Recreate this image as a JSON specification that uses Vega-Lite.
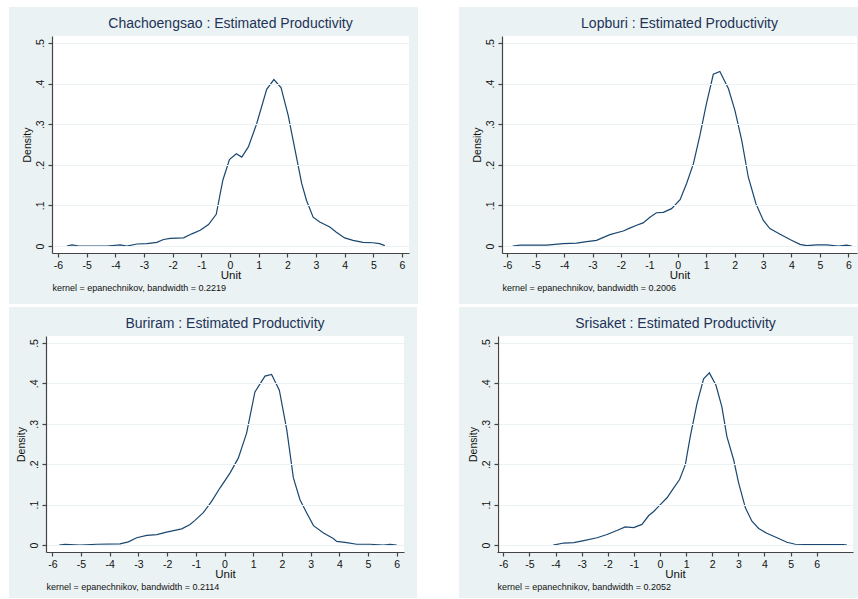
{
  "$schema": "https://vega.github.io/schema/vega-lite/v6.json",
  "background": "white",
  "padding": {"left": 9, "top": 7, "right": 0, "bottom": 1},
  "config": {
    "font": "Liberation Sans",
    "view": {"fill": "#eaf2f3", "stroke": null},
    "axis": {
      "labelFont": "Liberation Sans",
      "labelFontSize": 10.5,
      "labelColor": "#111111",
      "titleFont": "Liberation Sans",
      "titleFontSize": 11.5,
      "titleFontWeight": "normal",
      "titleColor": "#111111",
      "domainColor": "#444444",
      "domainWidth": 1.2,
      "tickColor": "#444444",
      "tickWidth": 1.2,
      "tickSize": 4,
      "gridColor": "#eaf2f3",
      "gridWidth": 1
    },
    "axisX": {"grid": false, "labelPadding": 3, "titlePadding": -1, "labelExpr": "'' + datum.value"},
    "axisY": {
      "labelAngle": 270,
      "labelAlign": "center",
      "labelBaseline": "bottom",
      "labelPadding": 3,
      "titlePadding": 3,
      "titleFontSize": 10.5,
      "labelExpr": "datum.value == 0 ? '0' : replace(format(datum.value, '.1f'), '0.', '.')"
    },
    "title": {
      "font": "Liberation Sans",
      "fontSize": 14,
      "fontWeight": "normal",
      "color": "#233257",
      "anchor": "middle",
      "frame": "group",
      "baseline": "alphabetic",
      "offset": -24
    }
  },
  "datasets": {
    "chachoengsao": [
      {"unit": -5.69, "density": 0}, {"unit": -5.51, "density": 0.003}, {"unit": -5.28, "density": 0},
      {"unit": -4.29, "density": 0}, {"unit": -3.83, "density": 0.003}, {"unit": -3.6, "density": 0},
      {"unit": -3.25, "density": 0.005}, {"unit": -2.9, "density": 0.006}, {"unit": -2.55, "density": 0.009},
      {"unit": -2.32, "density": 0.016}, {"unit": -2.08, "density": 0.019}, {"unit": -1.62, "density": 0.02},
      {"unit": -1.33, "density": 0.03}, {"unit": -1.04, "density": 0.039}, {"unit": -0.75, "density": 0.053},
      {"unit": -0.48, "density": 0.078}, {"unit": -0.25, "density": 0.162}, {"unit": -0.02, "density": 0.213},
      {"unit": 0.22, "density": 0.227}, {"unit": 0.41, "density": 0.219}, {"unit": 0.64, "density": 0.244},
      {"unit": 0.93, "density": 0.301}, {"unit": 1.28, "density": 0.386}, {"unit": 1.53, "density": 0.41},
      {"unit": 1.78, "density": 0.39}, {"unit": 2.03, "density": 0.322}, {"unit": 2.27, "density": 0.236},
      {"unit": 2.5, "density": 0.154}, {"unit": 2.67, "density": 0.112}, {"unit": 2.9, "density": 0.071},
      {"unit": 3.13, "density": 0.059}, {"unit": 3.48, "density": 0.047}, {"unit": 3.71, "density": 0.034},
      {"unit": 4.0, "density": 0.02}, {"unit": 4.29, "density": 0.014}, {"unit": 4.64, "density": 0.009},
      {"unit": 4.99, "density": 0.008}, {"unit": 5.22, "density": 0.006}, {"unit": 5.4, "density": 0.001}
    ],
    "lopburi": [
      {"unit": -5.81, "density": 0}, {"unit": -5.55, "density": 0.002}, {"unit": -4.62, "density": 0.002},
      {"unit": -4.03, "density": 0.006}, {"unit": -3.56, "density": 0.007}, {"unit": -3.21, "density": 0.011},
      {"unit": -2.86, "density": 0.014}, {"unit": -2.39, "density": 0.028}, {"unit": -1.92, "density": 0.037},
      {"unit": -1.69, "density": 0.044}, {"unit": -1.45, "density": 0.051}, {"unit": -1.22, "density": 0.057},
      {"unit": -0.98, "density": 0.071}, {"unit": -0.75, "density": 0.082}, {"unit": -0.51, "density": 0.083},
      {"unit": -0.22, "density": 0.092}, {"unit": 0.08, "density": 0.114}, {"unit": 0.31, "density": 0.154},
      {"unit": 0.55, "density": 0.203}, {"unit": 0.78, "density": 0.273}, {"unit": 1.01, "density": 0.351},
      {"unit": 1.25, "density": 0.423}, {"unit": 1.48, "density": 0.43}, {"unit": 1.78, "density": 0.388},
      {"unit": 2.01, "density": 0.334}, {"unit": 2.25, "density": 0.26}, {"unit": 2.48, "density": 0.17},
      {"unit": 2.75, "density": 0.104}, {"unit": 3.01, "density": 0.063}, {"unit": 3.24, "density": 0.043},
      {"unit": 3.6, "density": 0.029}, {"unit": 4.0, "density": 0.014}, {"unit": 4.3, "density": 0.004},
      {"unit": 4.53, "density": 0.001}, {"unit": 4.89, "density": 0.003}, {"unit": 5.24, "density": 0.003},
      {"unit": 5.65, "density": 0}, {"unit": 5.94, "density": 0.002}, {"unit": 6.12, "density": 0}
    ],
    "buriram": [
      {"unit": -5.76, "density": 0}, {"unit": -5.56, "density": 0.002}, {"unit": -5.04, "density": 0},
      {"unit": -4.45, "density": 0.002}, {"unit": -3.64, "density": 0.003}, {"unit": -3.35, "density": 0.008},
      {"unit": -3.06, "density": 0.018}, {"unit": -2.71, "density": 0.024}, {"unit": -2.36, "density": 0.026},
      {"unit": -2.02, "density": 0.032}, {"unit": -1.49, "density": 0.04}, {"unit": -1.2, "density": 0.051},
      {"unit": -1.03, "density": 0.061}, {"unit": -0.74, "density": 0.08}, {"unit": -0.45, "density": 0.108},
      {"unit": -0.16, "density": 0.141}, {"unit": 0.19, "density": 0.178}, {"unit": 0.48, "density": 0.215},
      {"unit": 0.77, "density": 0.277}, {"unit": 1.06, "density": 0.379}, {"unit": 1.41, "density": 0.418},
      {"unit": 1.64, "density": 0.422}, {"unit": 1.91, "density": 0.383}, {"unit": 2.17, "density": 0.285},
      {"unit": 2.4, "density": 0.166}, {"unit": 2.63, "density": 0.112}, {"unit": 2.86, "density": 0.08},
      {"unit": 3.1, "density": 0.048}, {"unit": 3.45, "density": 0.03}, {"unit": 3.79, "density": 0.016},
      {"unit": 3.91, "density": 0.009}, {"unit": 4.26, "density": 0.006}, {"unit": 4.61, "density": 0.002},
      {"unit": 5.07, "density": 0.002}, {"unit": 5.54, "density": 0}, {"unit": 5.77, "density": 0.002},
      {"unit": 6.0, "density": 0}
    ],
    "srisaket": [
      {"unit": -4.09, "density": 0}, {"unit": -3.69, "density": 0.005}, {"unit": -3.3, "density": 0.006},
      {"unit": -2.92, "density": 0.011}, {"unit": -2.41, "density": 0.018}, {"unit": -2.03, "density": 0.026},
      {"unit": -1.65, "density": 0.036}, {"unit": -1.33, "density": 0.045}, {"unit": -1.01, "density": 0.043},
      {"unit": -0.69, "density": 0.051}, {"unit": -0.43, "density": 0.073}, {"unit": -0.24, "density": 0.083},
      {"unit": 0.01, "density": 0.1}, {"unit": 0.27, "density": 0.117}, {"unit": 0.52, "density": 0.141},
      {"unit": 0.75, "density": 0.162}, {"unit": 0.97, "density": 0.199}, {"unit": 1.16, "density": 0.269},
      {"unit": 1.42, "density": 0.351}, {"unit": 1.67, "density": 0.411}, {"unit": 1.89, "density": 0.426},
      {"unit": 2.14, "density": 0.396}, {"unit": 2.37, "density": 0.342}, {"unit": 2.56, "density": 0.269},
      {"unit": 2.82, "density": 0.211}, {"unit": 3.01, "density": 0.154}, {"unit": 3.27, "density": 0.092},
      {"unit": 3.52, "density": 0.059}, {"unit": 3.78, "density": 0.041}, {"unit": 4.09, "density": 0.029},
      {"unit": 4.48, "density": 0.018}, {"unit": 4.86, "density": 0.007}, {"unit": 5.18, "density": 0.002},
      {"unit": 5.88, "density": 0.001}, {"unit": 6.52, "density": 0.001}, {"unit": 7.03, "density": 0.001},
      {"unit": 7.16, "density": 0}
    ]
  },
  "concat": [
    {
      "width": 409,
      "height": 297,
      "title": {"text": "Chachoengsao : Estimated Productivity", "dx": 17},
      "layer": [
        {
          "data": {"values": [{"region": "plot"}]},
          "mark": {"type": "rect", "fill": "white"},
          "encoding": {
            "x": {"datum": -6.209, "type": "quantitative",
              "scale": {"domain": [-6.209, 6.244], "range": [43, 400], "nice": false, "zero": false},
              "axis": {"orient": "bottom", "title": "kernel = epanechnikov, bandwidth = 0.2219", "offset": -21, "values": [], "labels": false, "ticks": false, "domain": false, "grid": false, "titleFontSize": 9, "titleAnchor": "start", "titleAlign": "left", "titleBaseline": "top", "titlePadding": 0, "zindex": 1}},
            "x2": {"datum": 6.244},
            "y": {"datum": -0.0172, "type": "quantitative",
              "scale": {"domain": [-0.0172, 0.5172], "range": [246, 29], "nice": false, "zero": false}, "axis": null},
            "y2": {"datum": 0.5172}
          }
        },
        {
          "data": {"name": "chachoengsao"},
          "mark": {"type": "line", "color": "#1a476f", "strokeWidth": 1.2},
          "encoding": {
            "x": {"field": "unit", "type": "quantitative",
              "scale": {"domain": [-6.209, 6.244], "range": [43, 400], "nice": false, "zero": false},
              "axis": {"orient": "bottom", "title": "Unit", "values": [-6, -5, -4, -3, -2, -1, 0, 1, 2, 3, 4, 5, 6], "offset": -51, "zindex": 1}},
            "y": {"field": "density", "type": "quantitative",
              "scale": {"domain": [-0.0172, 0.5172], "range": [246, 29], "nice": false, "zero": false},
              "axis": {"orient": "left", "title": "Density", "values": [0, 0.1, 0.2, 0.3, 0.4, 0.5], "offset": -43, "grid": true, "zindex": 1}}
          }
        }
      ],
      "resolve": {"axis": {"x": "independent", "y": "independent"}}
    },
    {
      "width": 399,
      "height": 297,
      "title": {"text": "Lopburi : Estimated Productivity", "dx": 21},
      "layer": [
        {
          "data": {"values": [{"region": "plot"}]},
          "mark": {"type": "rect", "fill": "white"},
          "encoding": {
            "x": {"datum": -6.186, "type": "quantitative",
              "scale": {"domain": [-6.186, 6.306], "range": [43, 398], "nice": false, "zero": false},
              "axis": {"orient": "bottom", "title": "kernel = epanechnikov, bandwidth = 0.2006", "offset": -21, "values": [], "labels": false, "ticks": false, "domain": false, "grid": false, "titleFontSize": 9, "titleAnchor": "start", "titleAlign": "left", "titleBaseline": "top", "titlePadding": 0, "zindex": 1}},
            "x2": {"datum": 6.306},
            "y": {"datum": -0.0172, "type": "quantitative",
              "scale": {"domain": [-0.0172, 0.5172], "range": [246, 29], "nice": false, "zero": false}, "axis": null},
            "y2": {"datum": 0.5172}
          }
        },
        {
          "data": {"name": "lopburi"},
          "mark": {"type": "line", "color": "#1a476f", "strokeWidth": 1.2},
          "encoding": {
            "x": {"field": "unit", "type": "quantitative",
              "scale": {"domain": [-6.186, 6.306], "range": [43, 398], "nice": false, "zero": false},
              "axis": {"orient": "bottom", "title": "Unit", "values": [-6, -5, -4, -3, -2, -1, 0, 1, 2, 3, 4, 5, 6], "offset": -51, "zindex": 1}},
            "y": {"field": "density", "type": "quantitative",
              "scale": {"domain": [-0.0172, 0.5172], "range": [246, 29], "nice": false, "zero": false},
              "axis": {"orient": "left", "title": "Density", "values": [0, 0.1, 0.2, 0.3, 0.4, 0.5], "offset": -43, "grid": true, "zindex": 1}}
          }
        }
      ],
      "resolve": {"axis": {"x": "independent", "y": "independent"}}
    },
    {
      "width": 408,
      "height": 291,
      "title": {"text": "Buriram : Estimated Productivity", "dx": 12},
      "layer": [
        {
          "data": {"values": [{"region": "plot"}]},
          "mark": {"type": "rect", "fill": "white"},
          "encoding": {
            "x": {"datum": -6.22, "type": "quantitative",
              "scale": {"domain": [-6.22, 6.254], "range": [37, 395], "nice": false, "zero": false},
              "axis": {"orient": "bottom", "title": "kernel = epanechnikov, bandwidth = 0.2114", "offset": -16, "values": [], "labels": false, "ticks": false, "domain": false, "grid": false, "titleFontSize": 9, "titleAnchor": "start", "titleAlign": "left", "titleBaseline": "top", "titlePadding": 0, "zindex": 1}},
            "x2": {"datum": 6.254},
            "y": {"datum": -0.0172, "type": "quantitative",
              "scale": {"domain": [-0.0172, 0.5172], "range": [245, 29], "nice": false, "zero": false}, "axis": null},
            "y2": {"datum": 0.5172}
          }
        },
        {
          "data": {"name": "buriram"},
          "mark": {"type": "line", "color": "#1a476f", "strokeWidth": 1.2},
          "encoding": {
            "x": {"field": "unit", "type": "quantitative",
              "scale": {"domain": [-6.22, 6.254], "range": [37, 395], "nice": false, "zero": false},
              "axis": {"orient": "bottom", "title": "Unit", "values": [-6, -5, -4, -3, -2, -1, 0, 1, 2, 3, 4, 5, 6], "offset": -46, "zindex": 1}},
            "y": {"field": "density", "type": "quantitative",
              "scale": {"domain": [-0.0172, 0.5172], "range": [245, 29], "nice": false, "zero": false},
              "axis": {"orient": "left", "title": "Density", "values": [0, 0.1, 0.2, 0.3, 0.4, 0.5], "offset": -37, "grid": true, "zindex": 1}}
          }
        }
      ],
      "resolve": {"axis": {"x": "independent", "y": "independent"}}
    },
    {
      "width": 399,
      "height": 291,
      "title": {"text": "Srisaket : Estimated Productivity", "dx": 17},
      "layer": [
        {
          "data": {"values": [{"region": "plot"}]},
          "mark": {"type": "rect", "fill": "white"},
          "encoding": {
            "x": {"datum": -6.241, "type": "quantitative",
              "scale": {"domain": [-6.241, 7.39], "range": [38, 394], "nice": false, "zero": false},
              "axis": {"orient": "bottom", "title": "kernel = epanechnikov, bandwidth = 0.2052", "offset": -16, "values": [], "labels": false, "ticks": false, "domain": false, "grid": false, "titleFontSize": 9, "titleAnchor": "start", "titleAlign": "left", "titleBaseline": "top", "titlePadding": 0, "zindex": 1}},
            "x2": {"datum": 7.39},
            "y": {"datum": -0.0172, "type": "quantitative",
              "scale": {"domain": [-0.0172, 0.5172], "range": [245, 29], "nice": false, "zero": false}, "axis": null},
            "y2": {"datum": 0.5172}
          }
        },
        {
          "data": {"name": "srisaket"},
          "mark": {"type": "line", "color": "#1a476f", "strokeWidth": 1.2},
          "encoding": {
            "x": {"field": "unit", "type": "quantitative",
              "scale": {"domain": [-6.241, 7.39], "range": [38, 394], "nice": false, "zero": false},
              "axis": {"orient": "bottom", "title": "Unit", "values": [-6, -5, -4, -3, -2, -1, 0, 1, 2, 3, 4, 5, 6], "offset": -46, "zindex": 1}},
            "y": {"field": "density", "type": "quantitative",
              "scale": {"domain": [-0.0172, 0.5172], "range": [245, 29], "nice": false, "zero": false},
              "axis": {"orient": "left", "title": "Density", "values": [0, 0.1, 0.2, 0.3, 0.4, 0.5], "offset": -39, "grid": true, "zindex": 1}}
          }
        }
      ],
      "resolve": {"axis": {"x": "independent", "y": "independent"}}
    }
  ],
  "columns": 2,
  "align": "all",
  "spacing": {"row": 3, "column": 41},
  "bounds": "flush"
}
